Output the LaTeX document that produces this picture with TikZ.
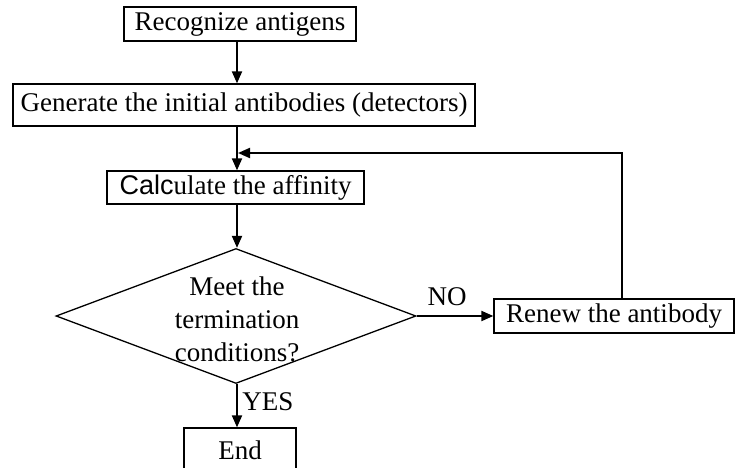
\documentclass[tikz,border=0pt]{standalone}
\usepackage{fontspec}
\setmainfont{Liberation Serif}
\newfontfamily\sansfam{Liberation Sans}
\usetikzlibrary{arrows.meta,shapes.geometric}
\begin{document}
\begin{tikzpicture}[x=1pt,y=-1pt,
  txt/.style={font=\fontsize{27}{33}\selectfont,inner sep=0pt},
  box/.style={txt,draw,line width=1.3pt},
  flow/.style={line width=2pt,-{Triangle[length=12pt,width=10pt]}}]
\clip (0,0) rectangle (736,468);
\coordinate (axis) at (237,0);
\coordinate (up) at (622,0);

% process steps
\node[box,minimum width=232pt,minimum height=34pt] (rec) at (240,24) {Recognize antigens};
\node[box,minimum width=462pt,minimum height=42pt] (gen) at (244,105) {Generate the initial antibodies (detectors)};
\node[box,minimum width=257pt,minimum height=33pt] (calc) at (235.5,187.5) {{\sansfam Calc}ulate the affinity};
\node[draw,diamond,line width=1.3pt,inner sep=0pt,minimum width=360pt,minimum height=135pt] (dec) at (236,316) {};
\node[txt,align=center] (dectext) at (237,319) {Meet the\\termination\\conditions?};
\node[box,minimum width=240pt,minimum height=34pt] (renew) at (614,316) {Renew the antibody};
\node[box,minimum width=112pt,minimum height=44pt] (end) at (240,450) {End};

% connectors
\coordinate (join) at (238,153);
\draw[flow] (rec.south -| axis) -- (gen.north -| axis);
\draw[flow] (gen.south -| axis) -- (calc.north -| axis);
\draw[flow] (calc.south -| axis) -- (dec.north -| axis);
\draw[flow] (dec.east) -- (renew.west);
\draw[flow] (dec.south -| axis) -- (end.north -| axis);
\draw[flow] (renew.north -| up) |- (join);

% branch labels
\node[txt] (no) at (447,297) {NO};
\node[txt] (yes) at (268,402) {YES};
\end{tikzpicture}
\end{document}
